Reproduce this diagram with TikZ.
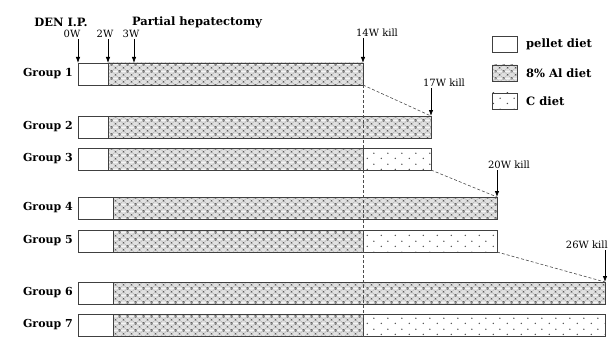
\documentclass[tikz,border=0pt]{standalone}
\usepackage{fontspec}
\setmainfont{DejaVu Serif}
\usetikzlibrary{positioning,arrows.meta,patterns.meta}

% fill patterns for the two diets
\tikzdeclarepattern{
  name=aldots,
  type=colored,
  bounding box={(0pt,0pt) and (8pt,7pt)},
  tile size={(8pt,7pt)},
  code={
    \fill[black!12] (0pt,0pt) rectangle (8pt,7pt);
    \draw[black!35, line width=0.3pt] (0pt,0pt) -- (8pt,7pt) (0pt,7pt) -- (8pt,0pt);
    \fill[black!70] (0pt,0pt) circle (0.8pt);
    \fill[black!70] (8pt,0pt) circle (0.8pt);
    \fill[black!70] (0pt,7pt) circle (0.8pt);
    \fill[black!70] (8pt,7pt) circle (0.8pt);
    \fill[black!70] (4pt,3.5pt) circle (0.8pt);
  }
}
\tikzdeclarepattern{
  name=cdots,
  type=uncolored,
  bounding box={(0pt,0pt) and (14pt,11pt)},
  tile size={(14pt,11pt)},
  code={
    \fill (3.5pt,2.75pt) circle (0.8pt);
    \fill (10.5pt,8.25pt) circle (0.8pt);
  }
}

\begin{document}
\begin{tikzpicture}[
    x=1pt, y=-1pt,
    bar/.style={rectangle, draw=black!75, line width=0.8pt, inner sep=0pt, outer sep=0pt, minimum height=22pt, anchor=north west},
    pellet/.style={bar, fill=white},
    aldiet/.style={bar, pattern=aldots},
    cdiet/.style={bar, preaction={fill=white}, pattern=cdots, pattern color=black!70},
    legbox/.style={minimum width=25pt, minimum height=16pt},
    grp/.style={font=\fontsize{11}{12}\selectfont\bfseries, inner sep=0pt},
    head/.style={font=\fontsize{11.5}{12}\selectfont\bfseries, inner sep=0pt},
    wk/.style={font=\fontsize{10}{11}\selectfont, inner sep=1pt},
    arrow/.style={-{Latex[length=6pt,width=4.5pt]}, line width=0.8pt},
    dashline/.style={densely dashed, line width=0.6pt, draw=black!70}
]
\useasboundingbox (0,0) rectangle (608,337);

% bars
\node[pellet, minimum width=30pt] (g1a) at (78,63) {};
\node[aldiet, minimum width=255pt] (g1b) at (g1a.north east) {};

\node[pellet, minimum width=30pt] (g2a) at (78,116) {};
\node[aldiet, minimum width=323pt] (g2b) at (g2a.north east) {};

\node[pellet, minimum width=30pt] (g3a) at (78,148) {};
\node[aldiet, minimum width=255pt] (g3b) at (g3a.north east) {};
\node[cdiet, minimum width=68pt] (g3c) at (g3b.north east) {};

\node[pellet, minimum width=35pt] (g4a) at (78,197) {};
\node[aldiet, minimum width=384pt] (g4b) at (g4a.north east) {};

\node[pellet, minimum width=35pt] (g5a) at (78,230) {};
\node[aldiet, minimum width=250pt] (g5b) at (g5a.north east) {};
\node[cdiet, minimum width=134pt] (g5c) at (g5b.north east) {};

\node[pellet, minimum width=35pt] (g6a) at (78,282) {};
\node[aldiet, minimum width=492pt] (g6b) at (g6a.north east) {};

\node[pellet, minimum width=35pt] (g7a) at (78,314) {};
\node[aldiet, minimum width=250pt] (g7b) at (g7a.north east) {};
\node[cdiet, minimum width=242pt] (g7c) at (g7b.north east) {};

% group labels
\node[grp, left=5pt of g1a] (l1) {Group 1};
\node[grp, left=5pt of g2a] (l2) {Group 2};
\node[grp, left=5pt of g3a] (l3) {Group 3};
\node[grp, left=5pt of g4a] (l4) {Group 4};
\node[grp, left=5pt of g5a] (l5) {Group 5};
\node[grp, left=5pt of g6a] (l6) {Group 6};
\node[grp, left=5pt of g7a] (l7) {Group 7};

% treatment times
\node[head] (den) at (61,22) {DEN I.P.};
\node[head] (ph) at (197,22) {Partial hepatectomy};
\node[wk] (w0) at (72,34) {0W};
\node[wk] (w2) at (105,34) {2W};
\node[wk] (w3) at (131,34) {3W};
\coordinate (w3pt) at (134,63);
\draw[arrow] (w0.south -| g1a.north west) -- (g1a.north west);
\draw[arrow] (w2.south -| g1b.north west) -- (g1b.north west);
\draw[arrow] (w3.south -| w3pt) -- (w3pt);

% kill times
\node[wk] (k14) at (377,33) {14W kill};
\node[wk] (k17) at (444,83) {17W kill};
\node[wk] (k20) at (509,165) {20W kill};
\node[wk, anchor=east] (k26) at (609,245) {26W kill};
\draw[arrow] (k14.south -| g1b.north east) -- (g1b.north east);
\draw[arrow] (k17.south -| g2b.north east) -- (g2b.north east);
\draw[arrow] (k20.south -| g4b.north east) -- (g4b.north east);
\draw[arrow] (k26.south -| g6b.north east) -- (g6b.north east);

\coordinate (base) at (363,337);
\draw[dashline] (g1b.south east) -- (base);
\draw[dashline] (g1b.south east) -- (g2b.north east);
\draw[dashline] (g3c.south east) -- (g4b.north east);
\draw[dashline] (g5c.south east) -- (g6b.north east);

% legend
\node[pellet, legbox] (lp) at (492,36) {};
\node[aldiet, legbox] (la) at (492,65) {};
\node[cdiet, legbox] (lc) at (492,93) {};
\node[head, right=9pt of lp] (lpt) {pellet diet};
\node[head, right=9pt of la] (lat) {8\% Al diet};
\node[head, right=9pt of lc] (lct) {C diet};

\end{tikzpicture}
\end{document}
